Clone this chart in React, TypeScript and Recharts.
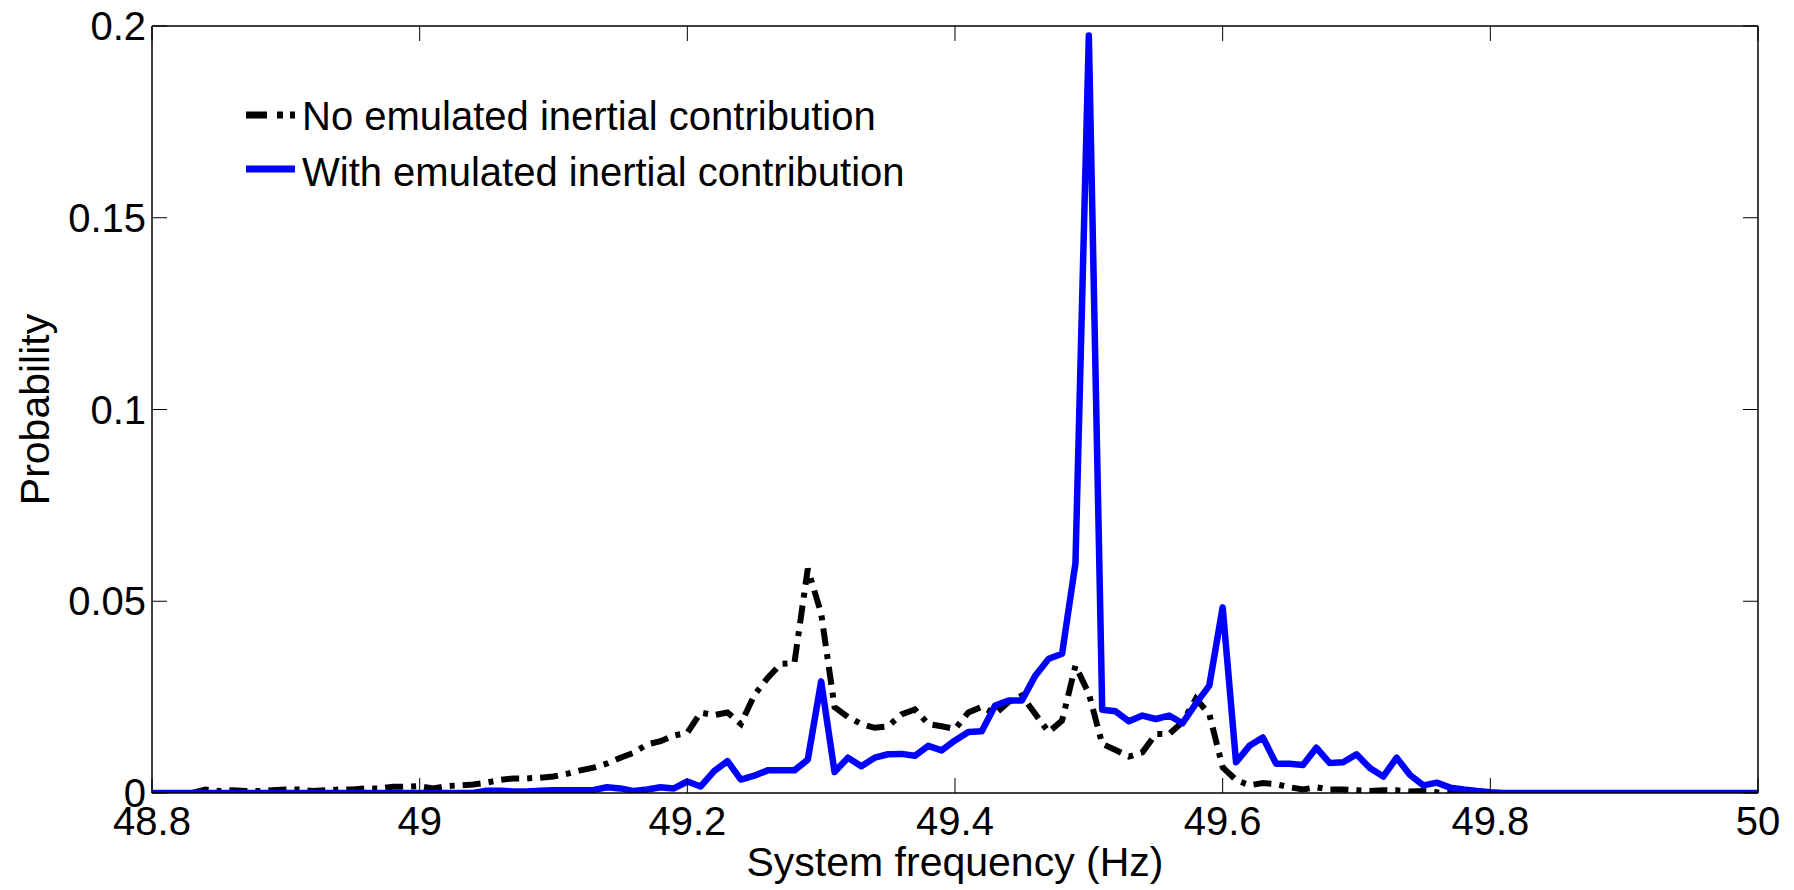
import { LineChart, Line, XAxis, YAxis, Label } from 'recharts';

// frequency grid (Hz), one point every 0.01 Hz
const freqHz = [
  48.8, 48.81, 48.82, 48.83, 48.84, 48.85, 48.86, 48.87, 48.88, 48.89,
  48.9, 48.91, 48.92, 48.93, 48.94, 48.95, 48.96, 48.97, 48.98, 48.99,
  49.0, 49.01, 49.02, 49.03, 49.04, 49.05, 49.06, 49.07, 49.08, 49.09,
  49.1, 49.11, 49.12, 49.13, 49.14, 49.15, 49.16, 49.17, 49.18, 49.19,
  49.2, 49.21, 49.22, 49.23, 49.24, 49.25, 49.26, 49.27, 49.28, 49.29,
  49.3, 49.31, 49.32, 49.33, 49.34, 49.35, 49.36, 49.37, 49.38, 49.39,
  49.4, 49.41, 49.42, 49.43, 49.44, 49.45, 49.46, 49.47, 49.48, 49.49,
  49.5, 49.51, 49.52, 49.53, 49.54, 49.55, 49.56, 49.57, 49.58, 49.59,
  49.6, 49.61, 49.62, 49.63, 49.64, 49.65, 49.66, 49.67, 49.68, 49.69,
  49.7, 49.71, 49.72, 49.73, 49.74, 49.75, 49.76, 49.77, 49.78, 49.79,
  49.8, 49.81, 49.82, 49.83, 49.84, 49.85, 49.86, 49.87, 49.88, 49.89,
  49.9, 49.91, 49.92, 49.93, 49.94, 49.95, 49.96, 49.97, 49.98, 49.99,
  50.0,
];

// probability without emulated inertia (black dash-dot)
const noEmulated = [
  0, 0, 0, 0, 0.0009, 0.0005, 0.0007, 0.0005, 0.0005, 0.0007,
  0.0009, 0.0009, 0.0005, 0.0007, 0.0009, 0.0009, 0.0012, 0.0012, 0.0016, 0.0016,
  0.0018, 0.0012, 0.0018, 0.002, 0.0022, 0.0027, 0.0034, 0.0038, 0.0038, 0.004,
  0.0043, 0.005, 0.0059, 0.0066, 0.0077, 0.0092, 0.0105, 0.0127, 0.0135, 0.015,
  0.0157, 0.021, 0.0203, 0.021, 0.018, 0.0255, 0.03, 0.0337, 0.0339, 0.0585,
  0.0468, 0.0224, 0.0198, 0.018, 0.017, 0.0174, 0.0205, 0.0218, 0.018, 0.0174,
  0.0167, 0.021, 0.0225, 0.0206, 0.0237, 0.0254, 0.0206, 0.0159, 0.0189, 0.0332,
  0.0259, 0.0128, 0.0112, 0.0095, 0.0106, 0.0154, 0.0154, 0.0185, 0.0246, 0.0206,
  0.0067, 0.0034, 0.002, 0.0026, 0.0023, 0.0015, 0.0009, 0.0015, 0.0009, 0.0009,
  0.0007, 0.0005, 0.0007, 0.0007, 0.0004, 0.0005, 0.0002, 0, 0, 0,
  0, 0, 0, 0, 0, 0, 0, 0, 0, 0,
  0, 0, 0, 0, 0, 0, 0, 0, 0, 0,
  0,
];

// probability with emulated inertia (blue)
const withEmulated = [
  0, 0, 0, 0, 0, 0, 0, 0, 0, 0,
  0, 0, 0, 0, 0, 0, 0, 0, 0, 0,
  0, 0, 0, 0, 0, 0.0006, 0.0006, 0.0004, 0.0004, 0.0006,
  0.0007, 0.0007, 0.0007, 0.0008, 0.0015, 0.0012, 0.0005, 0.0009, 0.0015, 0.0012,
  0.003, 0.0017, 0.0057, 0.0083, 0.0035, 0.0045, 0.0059, 0.0059, 0.0059, 0.0087,
  0.0291, 0.0055, 0.0092, 0.007, 0.0092, 0.0101, 0.0102, 0.0097, 0.0123, 0.0111,
  0.0137, 0.0159, 0.0161, 0.0228, 0.0241, 0.0241, 0.0306, 0.035, 0.0363, 0.0599,
  0.1975, 0.0217, 0.0213, 0.0187, 0.0202, 0.0193, 0.0202, 0.0182, 0.0233, 0.028,
  0.0484, 0.008, 0.0123, 0.0145, 0.0076, 0.0076, 0.0073, 0.0118, 0.0078, 0.008,
  0.0101, 0.0065, 0.0043, 0.0092, 0.0047, 0.002, 0.0027, 0.0014, 0.0009, 0.0005,
  0.0002, 0, 0, 0, 0, 0, 0, 0, 0, 0,
  0, 0, 0, 0, 0, 0, 0, 0, 0, 0,
  0,
];

const xTicks = [48.8, 49, 49.2, 49.4, 49.6, 49.8, 50];
const yTicks = [0, 0.05, 0.1, 0.15, 0.2];

const seriesNames = ['No emulated inertial contribution', 'With emulated inertial contribution'];

const FONT = '"Liberation Sans", Arial, Helvetica, sans-serif';
const DASH_DOT = '18 8 5 8';
const BLUE = '#0000ff';

const data = freqHz.map((f, i) => ({
  f,
  noInertia: noEmulated[i],
  withInertia: withEmulated[i],
}));

const tickStyle = { fill: '#000', fontSize: 40, fontFamily: FONT };
const labelStyle = { fill: '#000', fontSize: 41, fontFamily: FONT };
const axisLine = { stroke: '#000', strokeWidth: 1.5 };
const tickLine = { stroke: '#000', strokeWidth: 1 };
const blank = () => '';

export default function App() {
  return (
    <div style={{ position: 'absolute', left: 0, top: 0, width: 1794, height: 890, background: '#fff' }}>
      <LineChart
        width={1794}
        height={890}
        data={data}
        margin={{ top: 25, right: 35, bottom: 37, left: 0 }}
        style={{ fontFamily: FONT }}
      >
        <XAxis
          xAxisId="b"
          dataKey="f"
          type="number"
          domain={[48.8, 50]}
          ticks={xTicks}
          allowDataOverflow
          height={60}
          tickSize={-15}
          tickMargin={29}
          tick={tickStyle}
          axisLine={axisLine}
          tickLine={tickLine}
        >
          <Label value="System frequency (Hz)" position="bottom" offset={-6} style={labelStyle} />
        </XAxis>
        <XAxis
          xAxisId="t"
          orientation="top"
          dataKey="f"
          type="number"
          domain={[48.8, 50]}
          ticks={xTicks}
          allowDataOverflow
          height={1}
          tickSize={-15}
          tickFormatter={blank}
          axisLine={axisLine}
          tickLine={tickLine}
        />
        <YAxis
          yAxisId="l"
          type="number"
          domain={[0, 0.2]}
          ticks={yTicks}
          allowDataOverflow
          width={152}
          tickSize={-15}
          tickMargin={21}
          tick={tickStyle}
          axisLine={axisLine}
          tickLine={tickLine}
        >
          <Label
            value="Probability"
            angle={-90}
            position="insideLeft"
            offset={34}
            style={{ ...labelStyle, textAnchor: 'middle' }}
          />
        </YAxis>
        <YAxis
          yAxisId="r"
          orientation="right"
          type="number"
          domain={[0, 0.2]}
          ticks={yTicks}
          allowDataOverflow
          width={1}
          tickSize={-15}
          tickFormatter={blank}
          axisLine={axisLine}
          tickLine={tickLine}
        />
        <Line
          xAxisId="b"
          yAxisId="l"
          type="linear"
          dataKey="noInertia"
          stroke="#000"
          strokeWidth={6}
          strokeDasharray={DASH_DOT}
          dot={false}
          activeDot={false}
          isAnimationActive={false}
        />
        <Line
          xAxisId="b"
          yAxisId="l"
          type="linear"
          dataKey="withInertia"
          stroke={BLUE}
          strokeWidth={6.5}
          strokeLinejoin="round"
          strokeLinecap="round"
          dot={false}
          activeDot={false}
          isAnimationActive={false}
        />
      </LineChart>

      {/* legend, no box like the original */}
      <svg
        width={700}
        height={130}
        style={{ position: 'absolute', left: 240, top: 80 }}
      >
        <line x1={6} y1={35} x2={55} y2={35} stroke="#000" strokeWidth={7} strokeDasharray="21 10 6 7" />
        <text x={62} y={50} fontSize={40} fontFamily={FONT} fill="#000">{seriesNames[0]}</text>
        <line x1={6} y1={89} x2={55} y2={89} stroke={BLUE} strokeWidth={7} />
        <text x={62} y={106} fontSize={40} fontFamily={FONT} fill="#000">{seriesNames[1]}</text>
      </svg>
    </div>
  );
}
